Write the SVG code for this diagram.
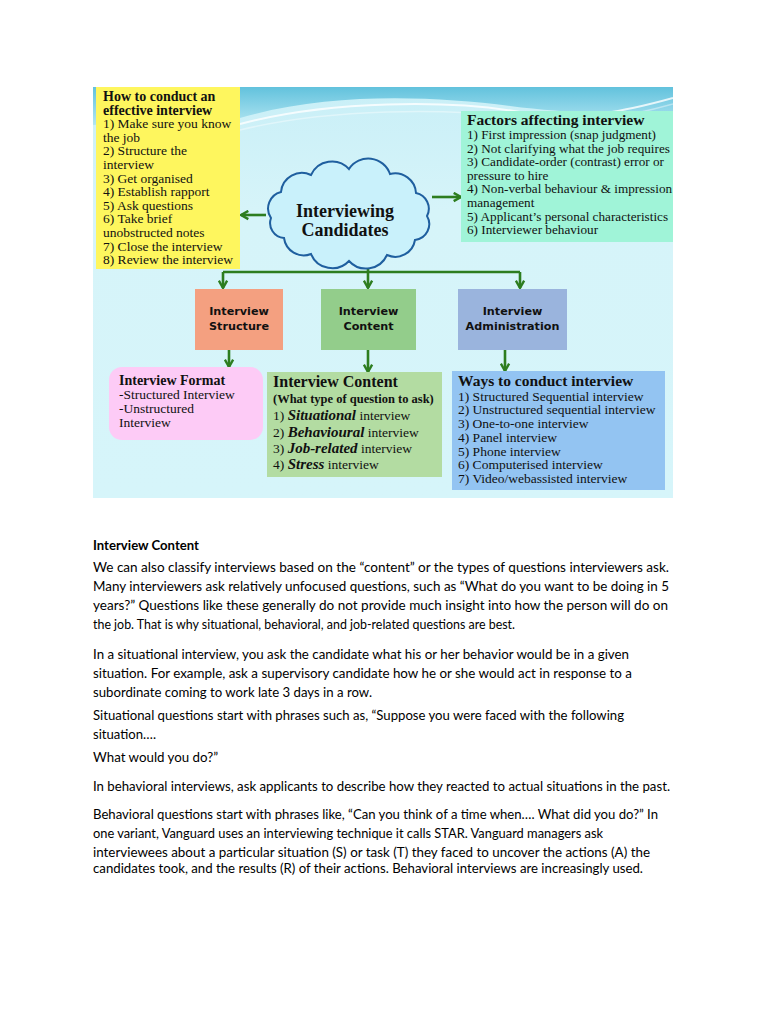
<svg xmlns="http://www.w3.org/2000/svg" width="768" height="1024" viewBox="0 0 768 1024">
<defs>
<style>
.sf{font-family:"Liberation Serif","DejaVu Serif",serif;fill:#111}
.y{font-size:13.5px}
.m{font-size:13.2px}
.b{font-weight:bold}
.ss{font-family:"DejaVu Sans",Verdana,sans-serif;font-weight:bold;font-size:11.2px;fill:#111;text-anchor:middle}
.body{font-family:Lato,"Liberation Sans",sans-serif;font-size:14px;fill:#000}
.con{fill:none;stroke:#2d7d1f;stroke-width:2.6}
</style>
<linearGradient id="bg" x1="0" y1="0" x2="0" y2="1">
<stop offset="0" stop-color="#c9eff7"/><stop offset="0.3" stop-color="#d6f4f9"/><stop offset="1" stop-color="#d6f5fa"/>
</linearGradient>
<linearGradient id="wave" x1="0" y1="0" x2="0" y2="1">
<stop offset="0" stop-color="#62c2dd"/><stop offset="1" stop-color="#b8e8f3"/>
</linearGradient>
<clipPath id="imgclip"><rect x="93" y="87" width="580" height="411"/></clipPath>
<marker id="ah" viewBox="0 0 12 12" refX="10" refY="6" markerWidth="11" markerHeight="11" orient="auto" markerUnits="userSpaceOnUse">
<path d="M2,1.5 L10,6 L2,10.5" fill="none" stroke="#2d7d1f" stroke-width="2.6"/>
</marker>
</defs>
<rect width="768" height="1024" fill="#fff"/>
<g id="background" clip-path="url(#imgclip)">
<rect x="93" y="87" width="580" height="411" fill="url(#bg)"/>
<path d="M93,87 H673 V128 C630,112 570,114 510,106 C430,96 330,92 240,118 L93,125 Z" fill="url(#wave)"/>
<path d="M240,124 C330,100 450,100 520,112 C580,122 630,110 673,98" fill="none" stroke="#fff" stroke-opacity="0.8" stroke-width="2"/>
<path d="M240,130 C330,108 450,108 520,118 C580,127 630,116 673,104" fill="none" stroke="#fff" stroke-opacity="0.4" stroke-width="1.5"/>
</g>
<g id="connectors">
<path class="con" d="M368,262 V272 M223,272 H520"/>
<path class="con" d="M223,272 V288" marker-end="url(#ah)"/>
<path class="con" d="M368,272 V288" marker-end="url(#ah)"/>
<path class="con" d="M520,272 V288" marker-end="url(#ah)"/>
<path class="con" d="M266,215 H241" marker-end="url(#ah)"/>
<path class="con" d="M432,197 H461" marker-end="url(#ah)"/>
<path class="con" d="M229,350 V367" marker-end="url(#ah)"/>
<path class="con" d="M368,350 V372" marker-end="url(#ah)"/>
<path class="con" d="M505,350 V371" marker-end="url(#ah)"/>
</g>
<g id="how-to-conduct">
<rect x="96" y="87" width="144" height="182" fill="#fef65e"/>
<text class="sf b" font-size="14" x="103" y="101">How to conduct an</text>
<text class="sf b" font-size="14" x="103" y="114.6">effective interview</text>
<text class="sf y" x="103" y="128.2">1) Make sure you know</text>
<text class="sf y" x="103" y="141.8">the job</text>
<text class="sf y" x="103" y="155.4">2) Structure the</text>
<text class="sf y" x="103" y="169">interview</text>
<text class="sf y" x="103" y="182.6">3) Get organised</text>
<text class="sf y" x="103" y="196.2">4) Establish rapport</text>
<text class="sf y" x="103" y="209.8">5) Ask questions</text>
<text class="sf y" x="103" y="223.4">6) Take brief</text>
<text class="sf y" x="103" y="237">unobstructed notes</text>
<text class="sf y" x="103" y="250.6">7) Close the interview</text>
<text class="sf y" x="103" y="264.2">8) Review the interview</text>
</g>
<g id="factors" clip-path="url(#imgclip)">
<rect x="461" y="111" width="214" height="131" fill="#a0f4d8"/>
<text class="sf b" font-size="15.5" x="467" y="125">Factors affecting interview</text>
<text class="sf m" x="467" y="139">1) First impression (snap judgment)</text>
<text class="sf m" x="467" y="152.6">2) Not clarifying what the job requires</text>
<text class="sf m" x="467" y="166.2">3) Candidate-order (contrast) error or</text>
<text class="sf m" x="467" y="179.8">pressure to hire</text>
<text class="sf m" x="467" y="193.4">4) Non-verbal behaviour &amp; impression</text>
<text class="sf m" x="467" y="207">management</text>
<text class="sf m" x="467" y="220.6">5) Applicant’s personal characteristics</text>
<text class="sf m" x="467" y="234.2">6) Interviewer behaviour</text>
</g>
<g id="cloud">
<path d="M271,218 A17,17 0 0 1 281,192 A21,21 0 0 1 311,175 A23,23 0 0 1 349,169 A23,23 0 0 1 390,174 A21,21 0 0 1 416,193 A16,16 0 0 1 427,216 A16,16 0 0 1 415,240 A20,20 0 0 1 387,255 A23,23 0 0 1 349,261 A23,23 0 0 1 311,254 A20,20 0 0 1 284,238 A15,15 0 0 1 271,218 Z" fill="#c9f1fb" stroke="#1f5f9f" stroke-width="2"/>
<text class="sf b" font-size="18" x="345" y="217" text-anchor="middle">Interviewing</text>
<text class="sf b" font-size="18" x="345" y="236" text-anchor="middle">Candidates</text>
</g>
<g id="interview-structure">
<rect x="195" y="289" width="88" height="61" fill="#f4a080"/>
<text class="ss" x="239" y="315">Interview</text>
<text class="ss" x="239" y="330">Structure</text>
</g>
<g id="interview-content">
<rect x="321" y="289" width="95" height="61" fill="#93cd8b"/>
<text class="ss" x="368.5" y="315">Interview</text>
<text class="ss" x="368.5" y="330">Content</text>
</g>
<g id="interview-administration">
<rect x="458" y="289" width="109" height="61" fill="#9ab4dd"/>
<text class="ss" x="512.5" y="315">Interview</text>
<text class="ss" x="512.5" y="330">Administration</text>
</g>
<g id="interview-format">
<rect x="109" y="367" width="154" height="73" rx="13" fill="#fdcbf6"/>
<text class="sf b" font-size="14" x="119" y="385">Interview Format</text>
<text class="sf y" x="119" y="399">-Structured Interview</text>
<text class="sf y" x="119" y="413">-Unstructured</text>
<text class="sf y" x="119" y="427">Interview</text>
</g>
<g id="content-types">
<rect x="267" y="372" width="175" height="105" fill="#b3dca2"/>
<text class="sf b" font-size="16" x="273" y="387">Interview Content</text>
<text class="sf b" font-size="12.5" x="273" y="403">(What type of question to ask)</text>
<text class="sf y" x="273" y="420">1) <tspan font-weight="bold" font-style="italic" font-size="15">Situational</tspan> interview</text>
<text class="sf y" x="273" y="437">2) <tspan font-weight="bold" font-style="italic" font-size="15">Behavioural</tspan> interview</text>
<text class="sf y" x="273" y="453">3) <tspan font-weight="bold" font-style="italic" font-size="15">Job-related</tspan> interview</text>
<text class="sf y" x="273" y="469">4) <tspan font-weight="bold" font-style="italic" font-size="15">Stress</tspan> interview</text>
</g>
<g id="ways-to-conduct">
<rect x="452" y="371" width="213" height="119" fill="#93c4f2"/>
<text class="sf b" font-size="15.5" x="458" y="386">Ways to conduct interview</text>
<text class="sf y" x="458" y="400.7">1) Structured Sequential interview</text>
<text class="sf y" x="458" y="414.4">2) Unstructured sequential interview</text>
<text class="sf y" x="458" y="428.1">3) One-to-one interview</text>
<text class="sf y" x="458" y="441.8">4) Panel interview</text>
<text class="sf y" x="458" y="455.5">5) Phone interview</text>
<text class="sf y" x="458" y="469.2">6) Computerised interview</text>
<text class="sf y" x="458" y="482.9">7) Video/webassisted interview</text>
</g>
<g id="body-text">
<text class="body" font-weight="bold" x="93" y="550" textLength="106" lengthAdjust="spacingAndGlyphs">Interview Content</text>
<text class="body" x="93" y="572" textLength="576" lengthAdjust="spacingAndGlyphs">We can also classify interviews based on the “content” or the types of questions interviewers ask.</text>
<text class="body" x="93" y="591" textLength="576" lengthAdjust="spacingAndGlyphs">Many interviewers ask relatively unfocused questions, such as “What do you want to be doing in 5</text>
<text class="body" x="93" y="610" textLength="575" lengthAdjust="spacingAndGlyphs">years?” Questions like these generally do not provide much insight into how the person will do on</text>
<text class="body" x="93" y="629" textLength="422" lengthAdjust="spacingAndGlyphs">the job. That is why situational, behavioral, and job-related questions are best.</text>
<text class="body" x="93" y="659" textLength="536" lengthAdjust="spacingAndGlyphs">In a situational interview, you ask the candidate what his or her behavior would be in a given</text>
<text class="body" x="93" y="678" textLength="539" lengthAdjust="spacingAndGlyphs">situation. For example, ask a supervisory candidate how he or she would act in response to a</text>
<text class="body" x="93" y="697" textLength="279" lengthAdjust="spacingAndGlyphs">subordinate coming to work late 3 days in a row.</text>
<text class="body" x="93" y="720" textLength="531" lengthAdjust="spacingAndGlyphs">Situational questions start with phrases such as, “Suppose you were faced with the following</text>
<text class="body" x="93" y="739" textLength="63" lengthAdjust="spacingAndGlyphs">situation….</text>
<text class="body" x="93" y="762" textLength="125" lengthAdjust="spacingAndGlyphs">What would you do?”</text>
<text class="body" x="93" y="791" textLength="577" lengthAdjust="spacingAndGlyphs">In behavioral interviews, ask applicants to describe how they reacted to actual situations in the past.</text>
<text class="body" x="93" y="819" textLength="565" lengthAdjust="spacingAndGlyphs">Behavioral questions start with phrases like, “Can you think of a time when…. What did you do?” In</text>
<text class="body" x="93" y="838" textLength="510" lengthAdjust="spacingAndGlyphs">one variant, Vanguard uses an interviewing technique it calls STAR. Vanguard managers ask</text>
<text class="body" x="93" y="857" textLength="557" lengthAdjust="spacingAndGlyphs">interviewees about a particular situation (S) or task (T) they faced to uncover the actions (A) the</text>
<text class="body" x="93" y="873" textLength="550" lengthAdjust="spacingAndGlyphs">candidates took, and the results (R) of their actions. Behavioral interviews are increasingly used.</text>
</g>
</svg>
